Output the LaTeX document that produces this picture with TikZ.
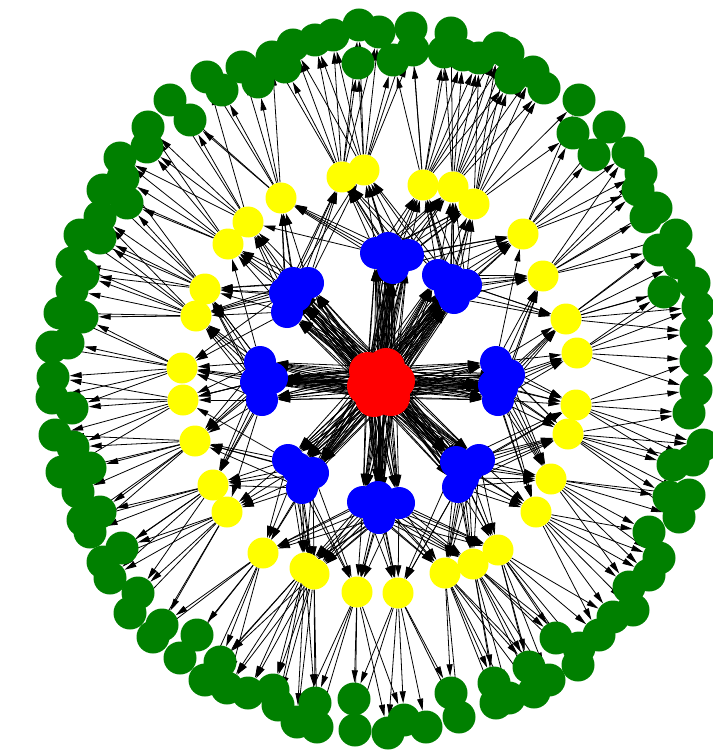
\documentclass[tikz,border=0pt]{standalone}
\usetikzlibrary{arrows.meta,backgrounds}
\definecolor{gr}{HTML}{008000}
\definecolor{bl}{HTML}{0000FF}
\definecolor{rd}{HTML}{FF0000}
\definecolor{yl}{HTML}{FFFF00}
\def\greenlist{207/77,222/90,242/67,258/82,272/57,285/67,293/45,315/40,333/35,359/25,358/63,170/100,190/120,148/127,147/147,120/158,123/178,103/190,127/203,100/217,80/235,100/238,72/263,83/275,72/290,60/313,82/317,52/347,68/343,53/377,379/32,411/28,393/60,413/50,451/33,444/52,463/55,479/58,498/48,508/53,511/78,533/72,544/88,579/100,573/133,609/127,594/155,628/153,641/173,638/190,656/208,646/217,676/235,659/250,679/263,694/283,664/292,698/307,696/332,696/360,52/398,72/408,55/435,73/447,62/472,90/468,78/492,100/512,83/520,90/532,122/548,103/562,110/578,138/593,130/613,162/625,153/637,197/635,180/658,220/662,205/680,227/688,248/693,273/690,278/705,297/722,315/703,317/727,354/699,355/730,696/390,689/413,703/445,673/465,693/460,689/495,669/497,679/517,649/532,659/558,649/575,629/587,633/610,613/617,599/635,579/648,578/665,556/638,529/667,549/680,534/692,494/683,496/703,509/698,451/693,459/717,426/727,404/720,388/733}
\def\yellowlist{342/177,364/170,281/198,248/222,228/244,205/289,196/316,182/368,183/400,195/441,213/485,227/512,263/553,305/568,314/574,357/592,398/593,445/573,473/564,498/550,536/512,551/479,568/434,576/405,577/353,566/319,543/276,523/234,474/204,453/187,423/185}
\def\bluelist{376/253,388/248,408/255,393/268,392/257,438/275,451/280,466/285,454/298,450/290,496/362,509/375,494/385,498/400,502/388,456/462,479/460,463/478,458/487,468/468,363/502,378/497,399/503,379/518,381/505,288/460,313/473,302/488,297/468,260/362,272/378,256/382,262/400,265/380,293/283,308/283,285/293,287/312,296/296}
\def\redlist{368/371,386/367,396/381,391/397,374/398,366/386,380/383,378/375,385/390}
\begin{document}
\begin{tikzpicture}[x=1pt,y=-1pt,
  gnode/.style={circle,fill=gr,minimum size=33pt,inner sep=0pt},
  ynode/.style={circle,fill=yl,minimum size=31pt,inner sep=0pt},
  bnode/.style={circle,fill=bl,minimum size=32pt,inner sep=0pt},
  rnode/.style={circle,fill=rd,minimum size=38pt,inner sep=0pt},
  arr/.style={-{Triangle[length=12pt,width=6pt]},line width=0.8pt,black}]
\useasboundingbox (0,0) rectangle (712,751);
\foreach \x/\y [count=\i] in \greenlist {
  \node[gnode] (g\i) at (\x,\y) {};
  \pgfmathsetmacro\a{atan2(382-\y,\x-380)}
  \expandafter\xdef\csname ga\i\endcsname{\a}
  \xdef\ng{\i}
}
\foreach \x/\y [count=\i] in \yellowlist {
  \node[ynode] (y\i) at (\x,\y) {};
  \pgfmathsetmacro\a{atan2(382-\y,\x-380)}
  \expandafter\xdef\csname ya\i\endcsname{\a}
  \xdef\ny{\i}
}
\foreach \x/\y [count=\i] in \bluelist {
  \node[bnode] (b\i) at (\x,\y) {};
  \pgfmathsetmacro\a{atan2(382-\y,\x-380)}
  \expandafter\xdef\csname ba\i\endcsname{\a}
  \xdef\nb{\i}
}
\foreach \x/\y [count=\i] in \redlist {
  \node[rnode] (r\i) at (\x,\y) {};
  \xdef\nr{\i}
}
\begin{pgfonlayer}{background}
\foreach \i in {1,...,\ng}{
  \foreach \j in {1,...,\ny}{
    \edef\ai{\csname ga\i\endcsname}
    \edef\aj{\csname ya\j\endcsname}
    \pgfmathsetmacro\d{abs(mod((\ai)-(\aj)+540,360)-180)}
    \ifdim\d pt<11pt\relax \draw[arr] (y\j) -- (g\i);\fi
  }
}
\foreach \i in {1,...,\ny}{
  \foreach \j in {1,...,\nb}{
    \edef\ai{\csname ya\i\endcsname}
    \edef\aj{\csname ba\j\endcsname}
    \pgfmathsetmacro\d{abs(mod((\ai)-(\aj)+540,360)-180)}
    \ifdim\d pt<40pt\relax \draw[arr] (b\j) -- (y\i);\fi
  }
}
\foreach \i in {1,...,\nb}{
  \foreach \j in {1,...,\nr}{
    \draw[arr] (r\j) -- (b\i);
  }
}
\end{pgfonlayer}
\end{tikzpicture}
\end{document}
